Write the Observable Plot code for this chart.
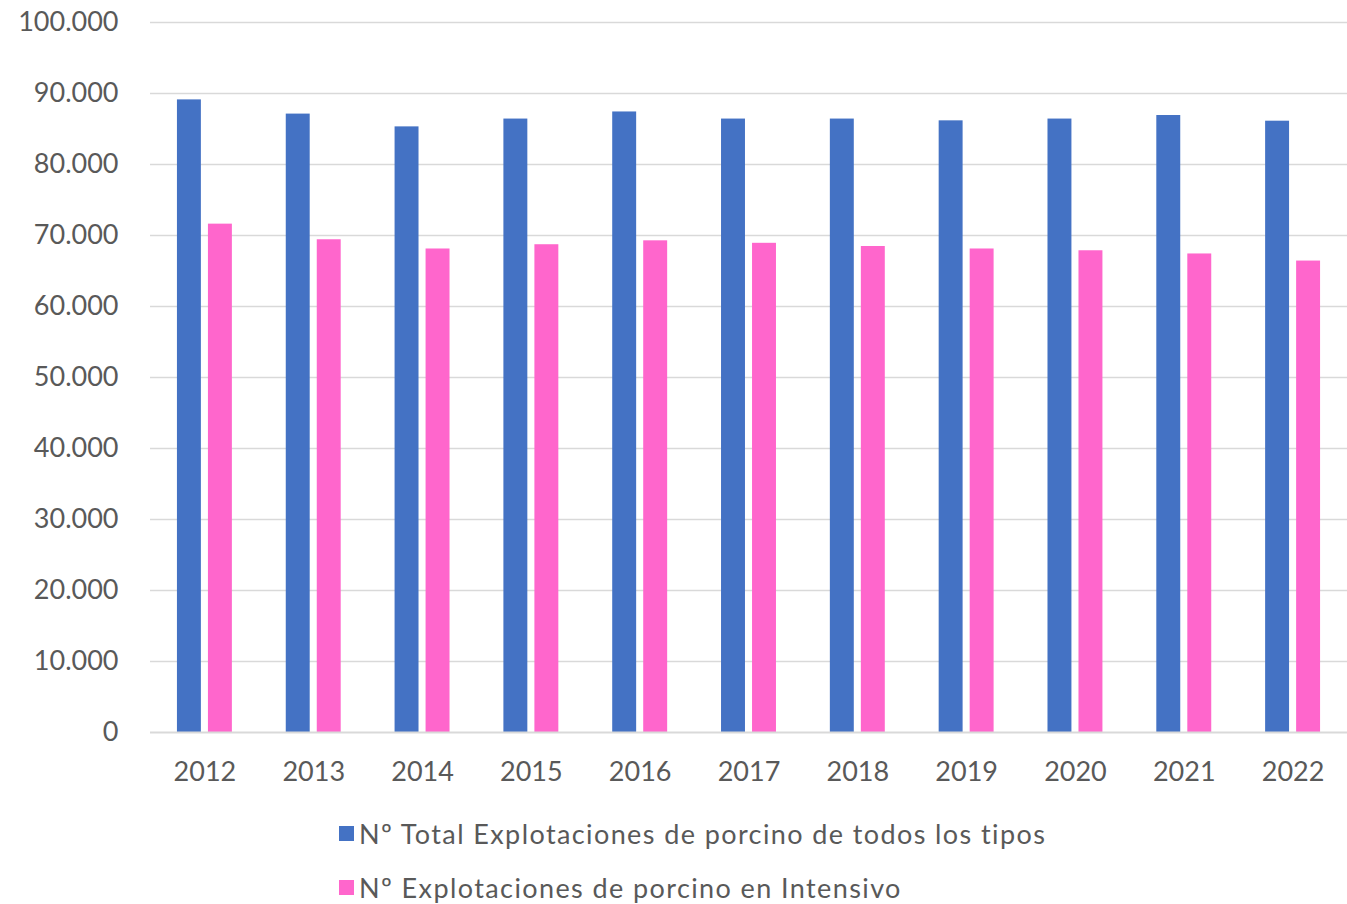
<!DOCTYPE html>
<html>
<head>
<meta charset="utf-8">
<script src="https://cdn.jsdelivr.net/npm/d3@7"></script>
<script src="https://cdn.jsdelivr.net/npm/@observablehq/plot@0.6"></script>
<style>
  html, body { margin: 0; padding: 0; background: #fff; }
  body { width: 1347px; height: 904px; overflow: hidden; font-family: Lato, "Open Sans", sans-serif; }
  #legend { margin-top: 6px; padding-left: 339px; color: #595959; font-size: 27px; letter-spacing: 1.4px; }
  .row { height: 54px; display: flex; align-items: center; }
  .sw { width: 15px; height: 15px; margin-right: 5px; }
</style>
</head>
<body>
<div id="chart"></div>
<div id="legend"></div>
<script>
const years = ["2012","2013","2014","2015","2016","2017","2018","2019","2020","2021","2022"];
const totalExplotaciones = [89100, 87100, 85300, 86400, 87400, 86400, 86400, 86150, 86400, 86900, 86100];
const intensivoExplotaciones = [71600, 69400, 68100, 68700, 69250, 68900, 68450, 68100, 67850, 67400, 66400];
const seriesNames = ["Nº Total Explotaciones de porcino de todos los tipos", "Nº Explotaciones de porcino en Intensivo"];
const seriesColors = ["#4472C4", "#FF66CC"];
const yTicks = [0, 10000, 20000, 30000, 40000, 50000, 60000, 70000, 80000, 90000, 100000];

const totalData = years.map((y, i) => ({year: y, value: totalExplotaciones[i]}));
const intData = years.map((y, i) => ({year: y, value: intensivoExplotaciones[i]}));
const fmt = v => v.toLocaleString("de-DE");

const chart = Plot.plot({
  width: 1347,
  height: 800,
  marginLeft: 150,
  marginRight: 0,
  marginTop: 22,
  marginBottom: 68,
  style: {fontFamily: "Lato, 'Open Sans', sans-serif", fontSize: "27px", color: "#595959", background: "#fff"},
  x: {domain: years, paddingInner: 0.78, paddingOuter: 0.39, round: false, label: null, tickSize: 0, tickPadding: 29},
  y: {domain: [0, 100000], ticks: yTicks, tickFormat: fmt, label: null, tickSize: 0, tickPadding: 32},
  marks: [
    Plot.gridY(yTicks.filter(d => d > 0), {stroke: "#d9d9d9", strokeOpacity: 1, strokeWidth: 1.5}),
    Plot.barY(totalData, {x: "year", y: "value", fill: seriesColors[0], dx: -15.5}),
    Plot.barY(intData, {x: "year", y: "value", fill: seriesColors[1], dx: 15.5}),
    Plot.ruleY([0], {stroke: "#d9d9d9", strokeWidth: 2})
  ]
});
document.getElementById("chart").appendChild(chart);

const legend = document.getElementById("legend");
seriesNames.forEach((n, i) => {
  const row = document.createElement("div");
  row.className = "row";
  const sw = document.createElement("span");
  sw.className = "sw";
  sw.style.background = seriesColors[i];
  const t = document.createElement("span");
  t.textContent = n;
  row.appendChild(sw);
  row.appendChild(t);
  legend.appendChild(row);
});
</script>
</body>
</html>
